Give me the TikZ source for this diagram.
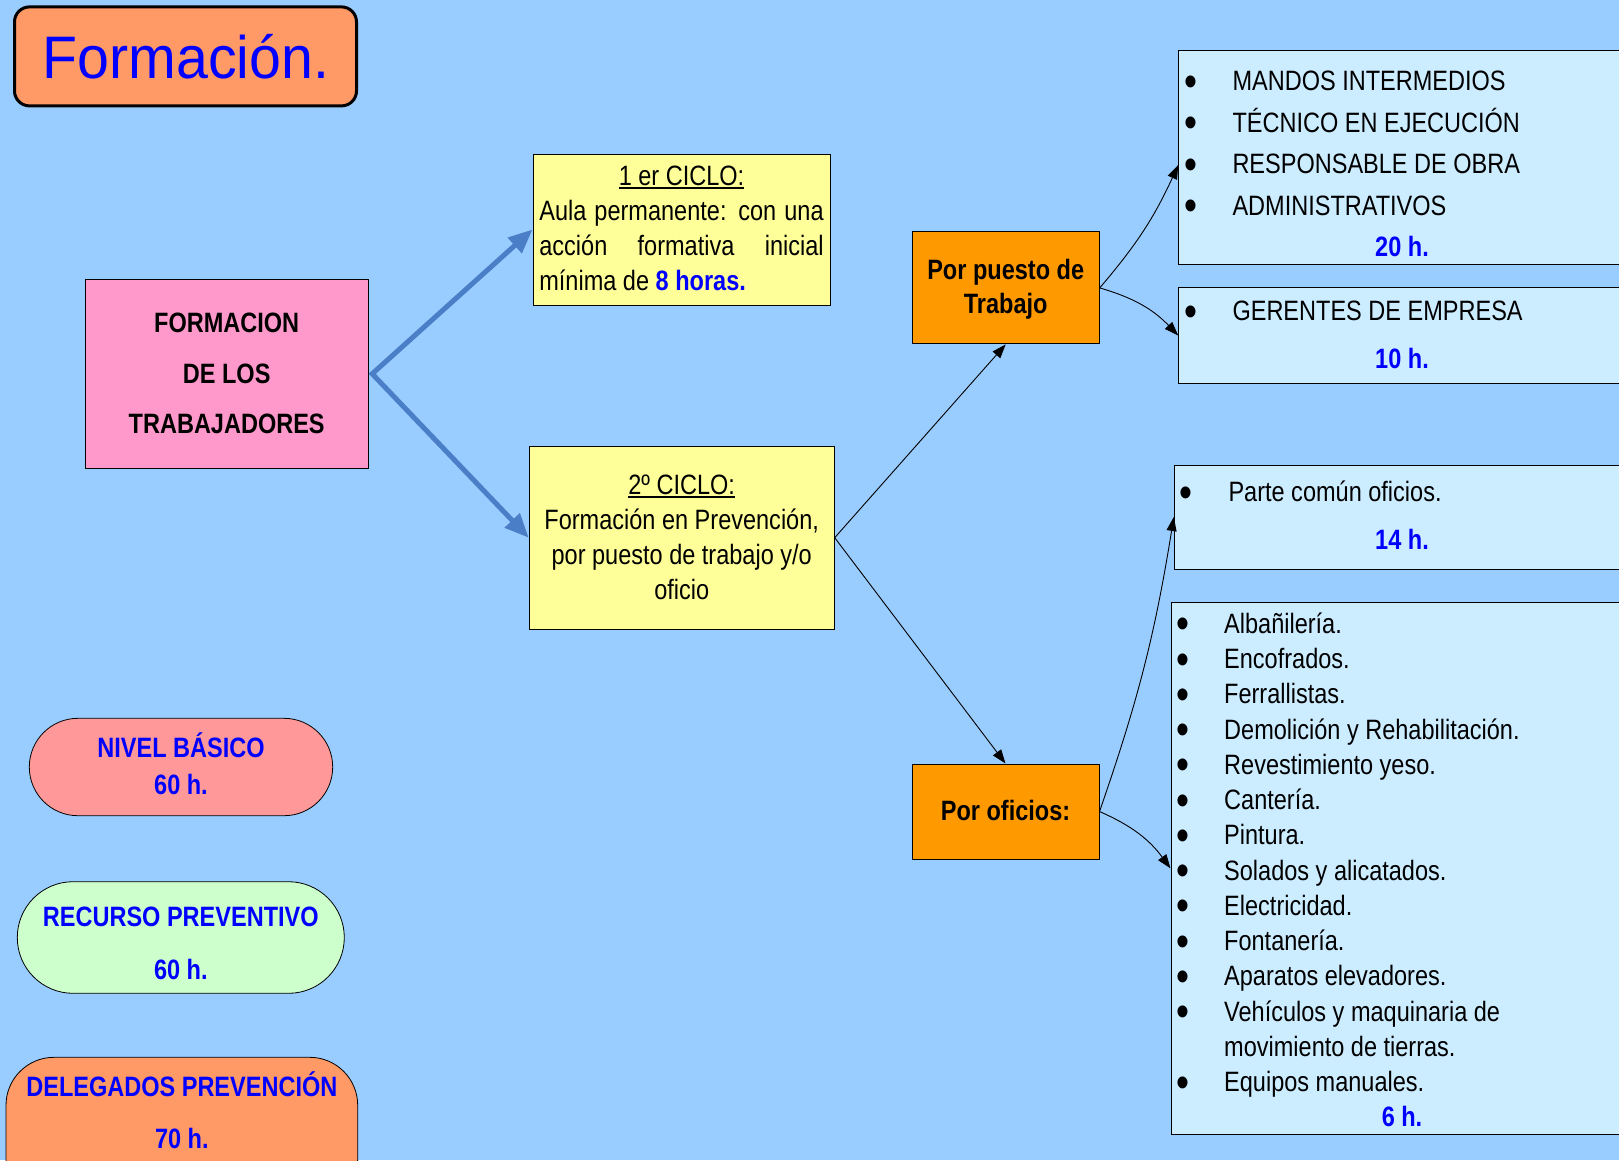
\documentclass[tikz,border=0pt]{standalone}
\usepackage{fontspec}
\setmainfont{Liberation Sans}
\newfontfamily\estrecha{Liberation Sans}[FakeStretch=0.84]
\newfontfamily\titular{Liberation Sans}[FakeStretch=0.955]
\usetikzlibrary{arrows.meta,positioning}

\definecolor{fondo}{HTML}{99CCFF}
\definecolor{celeste}{HTML}{CCECFF}
\definecolor{amarillo}{HTML}{FFFF99}
\definecolor{naranja}{HTML}{FF9900}
\definecolor{rosa}{HTML}{FF99CC}
\definecolor{salmon}{HTML}{FF9966}
\definecolor{rojizo}{HTML}{FF9999}
\definecolor{verdoso}{HTML}{CCFFCC}
\definecolor{flecha}{HTML}{4A7EC7}
\definecolor{azul}{HTML}{0000FF}
\setlength{\parindent}{0pt}

% subrayado grueso y vineta de lista
\newsavebox{\subrbox}
\newcommand{\subr}[1]{\sbox{\subrbox}{#1}\rlap{\rule[-3.5pt]{\wd\subrbox}{1.8pt}}\usebox{\subrbox}}
\newcommand{\vineta}[1][48pt]{\makebox[#1][l]{\raisebox{-5.5pt}{\fontsize{44}{44}\selectfont •}}}

\tikzset{
  caja/.style={draw=black, line width=1pt, inner sep=0pt},
  pildora/.style={caja, line width=0.8pt},
  tx/.style={inner sep=0pt, align=center, anchor=base, font={\estrecha\fontsize{28}{#1}\selectfont}},
  tx/.default=35,
  txb/.style={tx, font={\estrecha\bfseries\fontsize{28}{#1}\selectfont}},
  txb/.default=35,
  conector/.style={-{Triangle[length=14pt,width=10pt]}, line width=0.9pt},
  flechaazul/.style={{Triangle[length=24pt,width=20pt]}-{Triangle[length=24pt,width=20pt]}, line width=5pt, draw=flecha, line join=miter}
}

\begin{document}
\begin{tikzpicture}[x=1pt,y=-1pt]
\useasboundingbox (0,0) rectangle (1619,1160);
\clip (0,0) rectangle (1619,1160);
\fill[fondo] (0,0) rectangle (1619,1160);

% titulo
\node[caja, fill=salmon, line width=3pt, rounded corners=15pt, minimum width=342pt, minimum height=99pt] (titulo) at (185.5,56.4) {};
\node[inner sep=0pt, anchor=base, font={\titular\fontsize{60}{60}\selectfont}, text=azul] (titulotxt) at (186,78.3) {Formación.};

% cajas principales (base = ultima linea)
\node[caja, fill=rosa, minimum width=283pt, minimum height=189pt] (form) at (226.7,373.8) {};
\node[txb=50.8] (formtxt) at (226.7,433.9) {FORMACION\\DE LOS\\TRABAJADORES};

\node[caja, fill=amarillo, minimum width=297pt, minimum height=151pt] (ciclo1) at (681.5,229.5) {};
\node[tx, text width=284.3pt, align=justify] (ciclo1txt) at (681.5,185.7)
  {\hfil\subr{1 er CICLO:}\hfil\null\linebreak Aula permanente: con una\linebreak acción formativa inicial\linebreak mínima de \textcolor{azul}{\bfseries 8 horas.}};

\node[caja, fill=amarillo, minimum width=305pt, minimum height=183pt] (ciclo2) at (681.7,537.7) {};
\node[tx=35.1] (ciclo2txt) at (681.7,599.3) {\subr{2º CICLO:}\\Formación en Prevención,\\por puesto de trabajo y/o\\oficio};

\node[caja, fill=naranja, minimum width=187pt, minimum height=112pt] (puesto) at (1005.7,287.9) {};
\node[txb=34] (puestotxt) at (1005.7,313.3) {Por puesto de\\Trabajo};

\node[caja, fill=naranja, minimum width=187pt, minimum height=95pt] (oficios) at (1005.5,811.5) {};
\node[txb] (oficiostxt) at (1005.5,820) {Por oficios:};

% listas de la derecha
\node[caja, fill=celeste, minimum width=446.6pt, minimum height=214pt] (mandos) at (1402,157) {};
\node[tx=41.5, align=left, anchor=base west] (mandostxt) at (1184.3,215.4)
  {\vineta MANDOS INTERMEDIOS\\\vineta TÉCNICO EN EJECUCIÓN\\\vineta RESPONSABLE DE OBRA\\\vineta ADMINISTRATIVOS};
\node[txb, text=azul] (h20) at (1402,256.7) {20 h.};

\node[caja, fill=celeste, minimum width=446.6pt, minimum height=95.6pt] (gerentes) at (1402,335.5) {};
\node[tx, align=left, anchor=base west] (gerentestxt) at (1184.3,320.7) {\vineta GERENTES DE EMPRESA};
\node[txb, text=azul] (h10) at (1402,368.3) {10 h.};

\node[caja, fill=celeste, minimum width=455.4pt, minimum height=104pt] (comun) at (1402,517) {};
\node[tx, align=left, anchor=base west] (comuntxt) at (1179.3,501.7) {\vineta[49pt]Parte común oficios.};
\node[txb, text=azul] (h14) at (1402,549.3) {14 h.};

\node[caja, fill=celeste, minimum width=462pt, minimum height=531.3pt] (lista) at (1402,868.4) {};
\node[tx=35.26, align=left, anchor=base west] (listatxt) at (1176,1091.7)
  {\vineta Albañilería.\\\vineta Encofrados.\\\vineta Ferrallistas.\\\vineta Demolición y Rehabilitación.\\
   \vineta Revestimiento yeso.\\\vineta Cantería.\\\vineta Pintura.\\\vineta Solados y alicatados.\\
   \vineta Electricidad.\\\vineta Fontanería.\\\vineta Aparatos elevadores.\\
   \vineta Vehículos y maquinaria de\\\hspace*{48pt}movimiento de tierras.\\\vineta Equipos manuales.};
\node[txb, text=azul] (h6) at (1402,1126.7) {6 h.};

% niveles
\node[pildora, fill=rojizo, rounded corners=48.7pt, minimum width=303.4pt, minimum height=97.4pt] (basico) at (181,767) {};
\node[txb=36.7, text=azul] (basicotxt) at (181,794) {NIVEL BÁSICO\\60 h.};

\node[pildora, fill=verdoso, rounded corners=55.8pt, minimum width=327pt, minimum height=111.6pt] (recurso) at (180.8,937.5) {};
\node[txb=53.3, text=azul] (recursotxt) at (180.8,979.3) {RECURSO PREVENTIVO\\60 h.};

\node[pildora, fill=salmon, rounded corners=48pt, minimum width=351.7pt, minimum height=150pt] (delegados) at (181.85,1132.3) {};
\node[txb=52.3, text=azul] (delegadostxt) at (181.85,1148.3) {DELEGADOS PREVENCIÓN\\70 h.};

% flechas
\coordinate (vertice) at ([xshift=3.5pt]form.east);
\draw[flechaazul] (ciclo1.west) -- (vertice) -- (ciclo2.west);

\draw[conector] (ciclo2.east) -- (puesto.south);
\draw[conector] (ciclo2.east) -- (oficios.north);
\draw[conector] (puesto.east) to[bend right=8] ([yshift=-8pt]mandos.west);
\draw[conector] (puesto.east) to[bend left=15] (gerentes.west);
\draw[conector] (oficios.east) to[bend right=5] (comun.west);
\draw[conector] (oficios.east) to[bend left=15] (lista.west);
\end{tikzpicture}
\end{document}
